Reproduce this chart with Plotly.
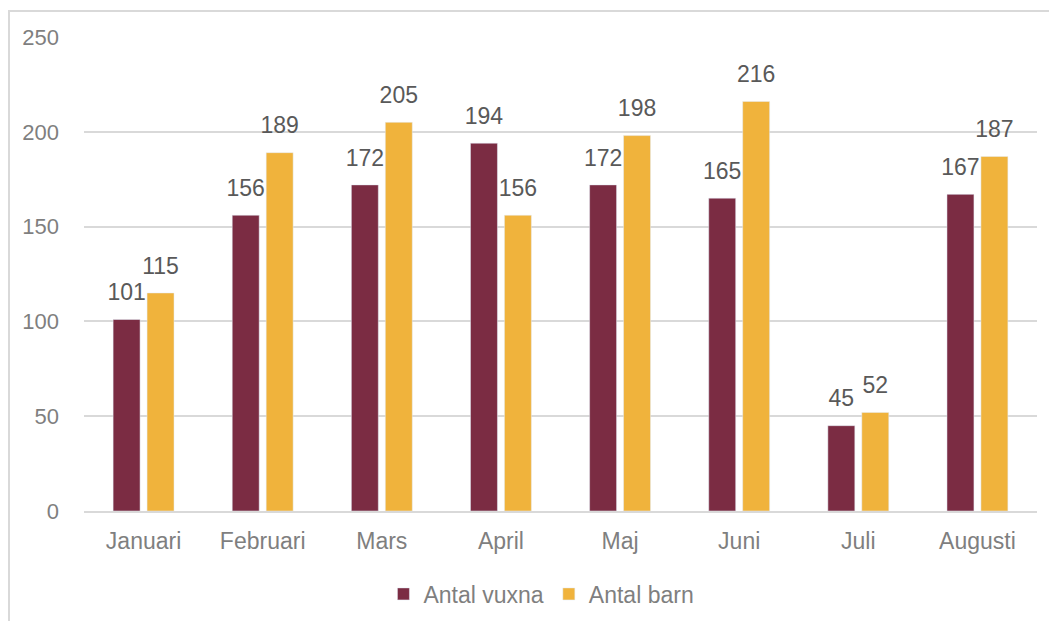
import plotly.graph_objects as go

months = ["Januari", "Februari", "Mars", "April", "Maj", "Juni", "Juli", "Augusti"]
vuxna = [101, 156, 172, 194, 172, 165, 45, 167]
barn = [115, 189, 205, 156, 198, 216, 52, 187]

# page body adds an 8px offset
L, R, T, B = 76, 20, 29, 110
W, H = 1049, 613
pw = W - L - R
ph = H - T - B

tmpl = "<span style='font-size:23px'>%{y}</span><br> "

fig = go.Figure()
fig.add_trace(go.Bar(name="Antal vuxna", x=months, y=vuxna, marker_color="#7B2C43",
                     texttemplate=tmpl, textposition="outside", cliponaxis=False,
                     constraintext="none",
                     textfont=dict(size=11, color="#595959")))
fig.add_trace(go.Bar(name="Antal barn", x=months, y=barn, marker_color="#F0B33C",
                     texttemplate=tmpl, textposition="outside", cliponaxis=False,
                     constraintext="none",
                     textfont=dict(size=11, color="#595959")))

fig.update_layout(
    width=W, height=H,
    margin=dict(l=L, r=R, t=T, b=B, autoexpand=False),
    paper_bgcolor="white", plot_bgcolor="white",
    font=dict(family="Liberation Sans, Arial, sans-serif", size=23, color="#7f7f7f"),
    barmode="group", bargap=0.43, bargroupgap=0.206,
    uniformtext=dict(minsize=11, mode="show"),
    showlegend=True,
    legend=dict(orientation="h", x=0.48, xanchor="center", y=-0.175, yanchor="middle",
                font=dict(size=23, color="#7f7f7f"), itemwidth=30, traceorder="normal"),
    xaxis=dict(showgrid=False, showline=True, linecolor="#d9d9d9", linewidth=2,
               ticks="", automargin=False, ticklabelstandoff=8,
               tickfont=dict(size=23, color="#7f7f7f")),
    yaxis=dict(range=[0, 250], dtick=50, showgrid=True, gridcolor="#d9d9d9", gridwidth=1.5,
               zeroline=False, showline=False, ticks="", ticklabelstandoff=24,
               automargin=False, tickfont=dict(size=22, color="#7f7f7f")),
)

fig.add_shape(type="rect", xref="paper", yref="paper",
              x0=(1 - L) / pw, x1=(W + 20 - L) / pw,
              y0=-(B + 20) / ph, y1=1 + (T - 3) / ph,
              line=dict(color="#d9d9d9", width=2), fillcolor="rgba(0,0,0,0)", layer="below")

fig.write_html("out.html")
